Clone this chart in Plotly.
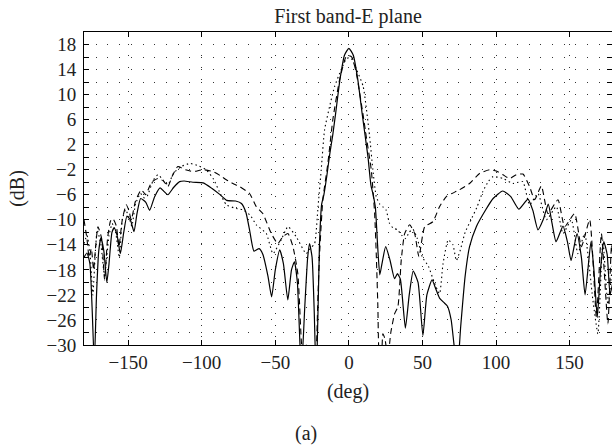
import plotly.graph_objects as go

# ---- data (angle in deg, level in dB) ----
solid_deg = [-180, -178, -176, -174.5, -173, -171.5, -170, -168.5, -166.5, -164.5, -163, -161, -159.5,
             -157.5, -155.3, -153, -150.8, -148.5, -146, -144, -141.5, -138, -135.4, -132, -128.3,
             -125.5, -123, -119, -115, -112, -106, -99, -93, -88, -83, -77, -73, -70, -67.5, -64.5,
             -61, -58.5, -55, -52.5, -50, -47, -44.5, -41.5, -39, -37, -35, -33, -32, -30, -28,
             -26.7, -25, -23.5, -22.5, -21.5, -20, -18.5, -17, -15, -13, -11, -9, -6, -3, 0,
             3, 6, 9, 11, 13, 15, 16.5, 18, 19.5, 21, 22.5, 25, 28, 31, 33, 35, 38.4, 41, 43.7,
             47, 50.3, 53, 56.5, 59, 61.6, 64.5, 67, 69.5, 72, 74, 76, 79, 82, 86.6, 93, 98, 104.5,
             110, 115.5, 121.7, 125, 128.5, 132, 135.5, 138, 140.8, 145.5, 148.5, 151, 155, 158,
             160.5, 164.5, 166.5, 168.8, 171, 173.2, 175.5, 177.5, 180]
solid_db = [-16.0, -15.3, -17.0, -24.0, -33.0, -22.0, -15.0, -12.9, -15.0, -20.0, -17.0, -12.0, -11.3,
            -12.5, -15.4, -12.0, -9.4, -10.0, -11.9, -9.0, -6.6, -7.2, -8.5, -6.3, -4.9,
            -5.5, -6.0, -4.8, -3.9, -3.8, -4.0, -4.1, -5.0, -5.9, -6.9, -7.0, -7.4, -8.8, -11.6, -15.0,
            -14.6, -15.5, -19.0, -22.3, -18.0, -14.8, -17.0, -22.8, -18.0, -16.7, -20.0, -31.0, -33.0, -24.0, -16.0,
            -13.8, -16.0, -25.0, -33.0, -30.0, -14.0, -7.5, -6.0, -3.0, 0.5, 3.5, 7.0, 12.5, 16.3, 17.4,
            16.3, 12.5, 7.0, 3.5, 0.0, -4.5, -6.0, -8.0, -14.0, -18.8, -17.0, -14.3, -16.5, -19.4, -18.6, -19.5, -27.3, -22.0, -18.2,
            -20.0, -28.5, -22.0, -19.6, -21.0, -22.5, -23.2, -23.8, -26.0, -31.0, -33.0, -27.0, -19.0, -14.3, -11.1, -8.4, -6.6, -5.4,
            -6.3, -8.3, -6.7, -8.5, -11.6, -10.0, -7.5, -10.5, -13.5, -11.0, -13.5, -16.5, -12.2, -16.0,
            -22.0, -13.5, -18.0, -25.6, -18.0, -13.5, -15.5, -22.0, -19.0]

dashed_deg = [-180, -178, -176.5, -175, -173.5, -172, -170.5, -168, -166, -164, -162, -160.4, -158,
              -156.3, -154, -151.3, -149.5, -147.9, -145, -141.1, -139.5, -138.2, -134, -129.8, -126,
              -123, -120, -116.2, -111, -106, -99.2, -92.4, -87, -83.3, -78.8, -74.3, -67.5, -62.9,
              -58.5, -52.7, -48.3, -44.9, -41.4, -38, -34.7, -32.4, -31, -29, -27, -25, -23, -22, -21,
              -19.9, -17.7, -14.3, -10.9, -6.3, -2, 0, 2, 5, 9.5, 11.8, 15.2, 17.5, 18.6, 19.7, 20.4,
              22, 23.1, 24.5, 26.5, 28.5, 31.1, 33.3, 35.6, 37.9, 41.3, 44.7, 47.6, 51.5, 57.1, 61.6,
              66.2, 70, 75.2, 82, 88.8, 95.6, 100.2, 104.7, 109.2, 113.8, 118.3, 122.8, 126.2, 130.8,
              135.3, 142.1, 146.6, 153.4, 158, 163.6, 168.2, 171.6, 176, 178.5, 180]
dashed_db = [-10.0, -13.0, -16.0, -14.6, -18.0, -14.0, -11.1, -13.0, -19.6, -13.0, -10.2, -9.8, -11.0,
             -14.3, -10.0, -7.6, -8.5, -10.0, -7.0, -5.2, -5.6, -6.0, -4.0, -3.4, -3.8,
             -4.7, -3.0, -1.5, -2.0, -2.3, -2.0, -2.3, -3.0, -3.6, -4.2, -4.7, -5.8, -7.9,
             -9.0, -12.2, -13.8, -12.7, -12.2, -14.3, -18.6, -29.0, -33.0, -30.0, -31.5, -30.5, -33.0, -30.0, -22.0,
             -15.4, -6.8, -1.0, 6.0, 12.4, 16.0, 16.2, 16.0, 13.5, 7.0, 3.3, -2.0, -9.0, -15.4, -23.9, -31.0,
             -33.0, -28.2, -29.0, -32.0, -28.0, -25.0, -23.9, -16.4, -12.2, -10.8, -12.2, -15.9, -11.1, -10.3, -7.9,
             -6.3, -5.8, -5.2, -4.2, -2.6, -2.0, -2.2, -2.8, -3.4, -2.8, -2.7, -4.7, -6.8, -4.6,
             -9.0, -6.8, -11.1, -9.0, -14.3, -10.0, -25.5, -12.2, -26.6, -14.0, -18.0]

dotted_deg = [-180, -178, -176, -174, -172.5, -171, -168.5, -166, -163, -160.8, -158.5, -156, -154,
              -151.8, -149.5, -147.5, -145, -141.6, -139, -137, -133, -129.8, -126, -123, -119, -114,
              -108, -102, -97, -92, -88, -83.3, -76.5, -72, -67, -62.9, -56.1, -51.6, -46, -41.4,
              -35.8, -29, -26, -23.3, -21, -18.8, -16.5, -13.1, -9.7, -5.2, -1.8, 0, 1.8, 5.2, 9.7,
              14.1, 16.3, 18.6, 21, 23.5, 25.4, 27.5, 30, 33, 36, 38.5, 41, 43.5, 46.5, 50, 54, 58,
              61.6, 64, 67.5, 70.7, 73, 75.5, 79, 83, 87, 91, 95, 98, 104.7, 111.5, 115, 118.3, 122.8,
              128.5, 134.2, 141, 145.5, 151.2, 155.6, 160.2, 165.8, 169.2, 172.6, 176, 180]
dotted_db = [-13.8, -12.5, -15.0, -22.0, -16.0, -11.6, -14.0, -19.0, -12.5, -10.6, -12.0, -16.0, -10.0,
             -8.4, -9.5, -11.0, -7.5, -5.8, -6.5, -6.2, -3.7, -2.8, -3.7, -4.4, -2.5, -1.5,
             -1.0, -1.4, -2.0, -3.5, -5.5, -7.6, -8.2, -8.4, -9.3, -10.8, -12.2, -15.4, -13.2, -11.1,
             -12.7, -15.4, -14.5, -13.8, -8.0, -2.0, 4.4, 8.1, 11.3, 14.0, 15.7, 15.9, 15.7, 14.0, 11.3,
             3.3, -2.0, -6.3, -7.5, -8.0, -8.5, -10.5, -11.3, -11.6, -12.5, -13.0, -12.0, -11.5, -13.0, -16.0, -17.4, -20.0,
             -21.8, -17.0, -13.2, -14.0, -16.5, -15.0, -12.0, -10.0, -8.0, -5.5, -3.8, -3.1, -3.4, -4.2, -4.0, -3.9, -7.6,
             -5.8, -10.0, -7.9, -12.2, -10.0, -15.4, -12.2, -22.8, -28.2, -13.2, -23.5, -15.0]

x_tick_values = [-150, -100, -50, 0, 50, 100, 150]
x_tick_labels = ["\u2212150", "\u2212100", "\u221250", "0", "50", "100", "150"]
y_tick_values = list(range(-30, 20, 2))
y_tick_labels = ["\u221230", "", "\u221226", "", "\u221222", "", "\u221218", "", "\u221214", "",
                 "\u221210", "", "\u22126", "", "\u22122", "", "2", "", "6", "", "10", "", "14", "", "18"]

FONT = "Liberation Serif"

fig = go.Figure()
fig.add_trace(go.Scatter(x=solid_deg, y=solid_db, mode="lines",
                         line=dict(color="black", width=1.2, shape="spline", smoothing=0.5),
                         showlegend=False))
fig.add_trace(go.Scatter(x=dashed_deg, y=dashed_db, mode="lines",
                         line=dict(color="black", width=1.1, dash="6px,4px", shape="spline", smoothing=0.5),
                         showlegend=False))
fig.add_trace(go.Scatter(x=dotted_deg, y=dotted_db, mode="lines",
                         line=dict(color="black", width=1.1, dash="1.5px,3px", shape="spline", smoothing=0.5),
                         showlegend=False))

grid_dash = "1px,10.7px"
fig.update_layout(
    width=612, height=445,
    margin=dict(l=84, r=0, t=32, b=100),
    paper_bgcolor="white", plot_bgcolor="white",
    font=dict(family=FONT, color="#222", size=19),
    title=dict(text="First band-E plane", x=0.5, xref="paper", xanchor="center",
               y=1 - 16 / 445, yref="container", yanchor="middle",
               font=dict(family=FONT, size=20, color="#222")),
    xaxis=dict(range=[-180, 178.8], tickvals=x_tick_values, ticktext=x_tick_labels,
               ticks="inside", ticklen=5, tickcolor="black", showline=True, linecolor="black",
               linewidth=1, mirror="ticks", showgrid=True, gridcolor="#333", gridwidth=1,
               griddash=grid_dash, zeroline=False, tickfont=dict(size=19),
               title=dict(text="(deg)", font=dict(size=20), standoff=12)),
    yaxis=dict(range=[-30, 20], tickvals=y_tick_values, ticktext=y_tick_labels,
               ticks="inside", ticklen=5, tickcolor="black", showline=True, linecolor="black",
               linewidth=1, mirror="ticks", showgrid=True, gridcolor="#333", gridwidth=1,
               griddash=grid_dash, zeroline=False, tickfont=dict(size=19),
               ticklabelstandoff=3,
               title=dict(text="(dB)", font=dict(size=20), standoff=16)),
    annotations=[dict(text="(a)", xref="paper", yref="paper", x=(306 - 84) / 528, y=(345 - 433) / 313,
                      xanchor="center", yanchor="middle", showarrow=False,
                      font=dict(family=FONT, size=20, color="#222"))],
)

fig.write_html("out.html", config={"displayModeBar": False},
               post_script="document.body.style.margin='0';document.body.style.overflow='hidden';")
